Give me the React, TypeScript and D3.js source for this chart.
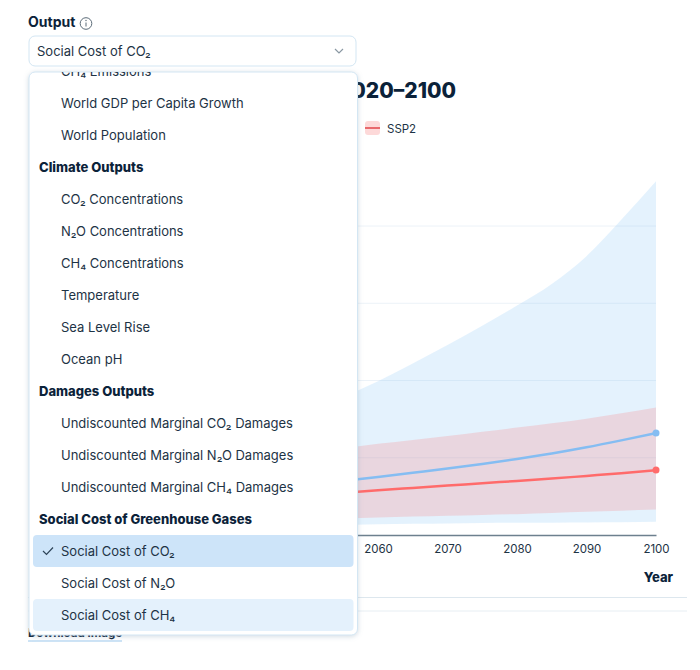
import * as React from "react";
import { useEffect, useRef } from "react";
import { area, axisBottom, curveMonotoneX, line, scaleLinear, select } from "d3";

const years = [2020, 2030, 2040, 2050, 2060, 2065, 2070, 2075, 2080, 2085, 2090, 2095, 2100];
const xTicks = [2060, 2070, 2080, 2090, 2100];
const gridValues = [100, 200, 300, 400];

// SSP1 is the blue one, SSP2 the red one. Everything left of 2060 sits behind the open menu, so it's a rough guess
const blueMedian = [38, 47, 56, 65, 75, 80.5, 86, 92, 98.5, 105.5, 113.5, 122.5, 132];
const blueUpper = [70, 95, 125, 160, 199, 222, 246, 271, 297, 325, 361, 408, 458];
const blueLower = [8, 10, 11, 12, 14, 14.5, 15, 15.5, 15.8, 16, 16.3, 16.6, 17];
const redMedian = [32, 38, 45, 51, 58, 61, 64, 67, 70, 73, 76.5, 80, 84];
const redUpper = [60, 75, 90, 105, 118, 123, 128, 133.5, 139, 144.5, 150.5, 157.5, 165];
const redLower = [12, 15, 18, 20, 22.5, 23.8, 25, 26, 27, 28.5, 30, 31.5, 33];

const menuGroups = new Set(["Climate Outputs", "Damages Outputs", "Social Cost of Greenhouse Gases"]);
const menuRows = [
  "CH₄ Emissions",
  "World GDP per Capita Growth",
  "World Population",
  "Climate Outputs",
  "CO₂ Concentrations",
  "N₂O Concentrations",
  "CH₄ Concentrations",
  "Temperature",
  "Sea Level Rise",
  "Ocean pH",
  "Damages Outputs",
  "Undiscounted Marginal CO₂ Damages",
  "Undiscounted Marginal N₂O Damages",
  "Undiscounted Marginal CH₄ Damages",
  "Social Cost of Greenhouse Gases",
  "Social Cost of CO₂",
  "Social Cost of N₂O",
  "Social Cost of CH₄",
];
const selectedRow = "Social Cost of CO₂";
const hoveredRow = "Social Cost of CH₄";

const width = 700, height = 670;
const font = "Inter, 'Noto Sans', sans-serif";
const ink = "#0b2239";
const blue = "#85bdf2", red = "#ff6b6b";

const x = scaleLinear().domain([2020, 2100]).range([100, 656]);
const y = scaleLinear().domain([0, 400]).range([535, 226]);
const rowY = scaleLinear().domain([0, 1]).range([71, 103]);

const band = (upper: number[], lower: number[]) =>
  area<number>()
    .x(d => x(d))
    .y0((_, i) => y(lower[i]))
    .y1((_, i) => y(upper[i]))
    .curve(curveMonotoneX)(years) as string;

const trend = (values: number[]) =>
  line<number>()
    .x(d => x(d))
    .y((_, i) => y(values[i]))
    .curve(curveMonotoneX)(years) as string;

const App: React.FC = () => {
  const axisNode = useRef<SVGGElement>(null);

  useEffect(() => {
    if (axisNode.current) {
      const axis = select(axisNode.current)
        .call(axisBottom(x).tickValues(xTicks).tickFormat(d => String(d)).tickSize(0).tickPadding(10) as any);
      axis.select(".domain").attr("stroke", "#6d808e").attr("stroke-width", 1.5);
      axis.selectAll("text")
        .attr("fill", "#1d3345")
        .attr("font-family", font)
        .attr("font-size", 11.5);
    }
  }, []);

  return (
    <svg width={width} height={height} style={{ position: "absolute", left: 0, top: 0 }} fontFamily={font}>
      <defs>
        <clipPath id="menu-clip">
          <rect x={29} y={72} width={328.5} height={563} rx={6} />
        </clipPath>
        <filter id="menu-shadow" x="-5%" y="-5%" width="110%" height="110%">
          <feDropShadow dx={0} dy={1} stdDeviation={2.5} floodColor="#8ba3b5" floodOpacity={0.4} />
        </filter>
      </defs>

      <text x={456} y={98} textAnchor="end" fontSize={21} fontWeight={800} fill={ink}>2020–2100</text>

      <rect x={365} y={121} width={15} height={14} rx={3} fill="#fdd9d9" />
      <line x1={365} x2={380} y1={128} y2={128} stroke="#e8696d" strokeWidth={2} />
      <text x={387} y={132.5} fontSize={11.5} fill="#1d3345">SSP2</text>

      {gridValues.map(v => (
        <line key={v} x1={x(2020)} x2={x(2100)} y1={y(v)} y2={y(v)} stroke="#ecf2f8" />
      ))}
      <path d={band(blueUpper, blueLower)} fill="#8fcaf8" fillOpacity={0.24} />
      <path d={band(redUpper, redLower)} fill={red} fillOpacity={0.2} />
      <path d={trend(blueMedian)} fill="none" stroke={blue} strokeWidth={2.5} />
      <path d={trend(redMedian)} fill="none" stroke={red} strokeWidth={2.5} />
      <circle cx={x(2100)} cy={y(blueMedian[blueMedian.length - 1])} r={3.5} fill={blue} />
      <circle cx={x(2100)} cy={y(redMedian[redMedian.length - 1])} r={3.5} fill={red} />

      <g ref={axisNode} transform={`translate(0,${y(0)})`} />
      <text x={673} y={582} textAnchor="end" fontSize={13} fontWeight={800} fill={ink}>Year</text>

      <line x1={28} x2={687} y1={597.5} y2={597.5} stroke="#dde7ee" />
      <line x1={28} x2={687} y1={611} y2={611} stroke="#e7eef3" />
      <text x={28} y={637} fontSize={11.6} fontWeight={700} fill={ink}>Download image</text>
      <line x1={28} x2={122} y1={641} y2={641} stroke="#9cc8ec" />

      <text x={28} y={27} fontSize={14} fontWeight={700} fill={ink}>Output</text>
      <circle cx={86} cy={23.5} r={5.8} fill="none" stroke="#5b6b78" />
      <line x1={86} x2={86} y1={22.5} y2={26.5} stroke="#5b6b78" />
      <circle cx={86} cy={20.5} r={0.7} fill="#5b6b78" />

      <rect x={29} y={36} width={327} height={30} rx={6} fill="#fff" stroke="#d3e6f3" />
      <text x={37} y={56} fontSize={13} fill="#1d3345">{selectedRow}</text>
      <path d="M335 49l4 4l4-4" fill="none" stroke="#8a98a3" strokeWidth={1.2} />

      <rect x={29} y={72} width={328.5} height={563} rx={6} fill="#fff" stroke="#d3e6f3" filter="url(#menu-shadow)" />
      <g clipPath="url(#menu-clip)">
        {menuRows.map((row, i) => {
          const cy = rowY(i);
          const isGroup = menuGroups.has(row);
          const fill = row === selectedRow ? "#cde4f9" : row === hoveredRow ? "#e4f1fc" : null;
          return (
            <g key={row}>
              {fill && <rect x={33} y={cy - 16} width={320.5} height={32} rx={4} fill={fill} />}
              {row === selectedRow && (
                <path d={`M43 ${cy}l3.5 3.5l6.5-7`} fill="none" stroke="#2e4458" strokeWidth={1.2} />
              )}
              <text
                x={isGroup ? 39 : 61}
                y={cy + 5}
                fontSize={13}
                fontWeight={isGroup ? 800 : 400}
                fill={isGroup ? ink : "#1d3345"}
              >
                {row}
              </text>
            </g>
          );
        })}
      </g>
    </svg>
  );
};

export default App;
